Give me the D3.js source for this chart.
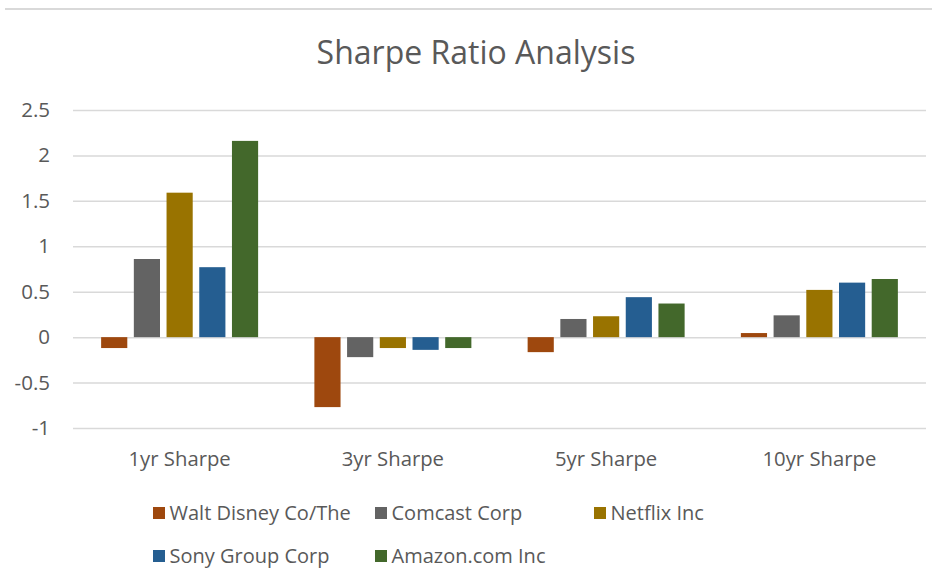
<!DOCTYPE html>
<html>
<head>
<meta charset="utf-8">
<script src="https://cdn.jsdelivr.net/npm/d3@7"></script>
<style>
  body { margin: 0; background: #fff; }
  svg { display: block; font-family: "Open Sans", sans-serif; }
</style>
</head>
<body>
<div id="chart"></div>
<script>
const categories = ['1yr Sharpe', '3yr Sharpe', '5yr Sharpe', '10yr Sharpe'];
const companies = ['Walt Disney Co/The', 'Comcast Corp', 'Netflix Inc', 'Sony Group Corp', 'Amazon.com Inc'];
const colors = ['#9e480e', '#636363', '#997300', '#255e91', '#43682b'];
// one array per company, in category order
const disney = [-0.12, -0.77, -0.165, 0.045];
const comcast = [0.86, -0.22, 0.20, 0.24];
const netflix = [1.59, -0.12, 0.23, 0.52];
const sony = [0.77, -0.14, 0.44, 0.60];
const amazon = [2.16, -0.12, 0.37, 0.64];
const yTicks = [-1, -0.5, 0, 0.5, 1, 1.5, 2, 2.5];

const series = [disney, comcast, netflix, sony, amazon];

const dims = { width: 932, height: 571 };
const plot = { left: 73, right: 926, top: 110, bottom: 428 };
const textColor = '#595959';
const gridColor = '#d9d9d9';

const svg = d3.select('#chart').append('svg')
  .attr('width', dims.width)
  .attr('height', dims.height)
  .attr('viewBox', [0, 0, dims.width, dims.height]);

// chart frame top edge
svg.append('line')
  .attr('x1', 5).attr('x2', dims.width)
  .attr('y1', 9).attr('y2', 9)
  .attr('stroke', gridColor).attr('stroke-width', 2);

svg.append('text')
  .attr('x', 476).attr('y', 64)
  .attr('text-anchor', 'middle')
  .attr('font-size', 32)
  .attr('fill', textColor)
  .text('Sharpe Ratio Analysis');

const y = d3.scaleLinear().domain([-1, 2.5]).range([plot.bottom, plot.top]);
const x0 = d3.scaleBand().domain(categories).range([plot.left, plot.right]);
const x1 = d3.scaleBand().domain(d3.range(companies.length))
  .range([0, x0.bandwidth()])
  .paddingInner(0.2)
  .paddingOuter(0.86);

// gridlines + tick labels (plain hyphen for negatives, like the original)
const yAxis = svg.append('g')
  .attr('transform', `translate(${plot.left},0)`)
  .call(d3.axisLeft(y).tickValues(yTicks).tickSize(-(plot.right - plot.left)).tickPadding(23).tickFormat(d => String(d)));
yAxis.select('.domain').remove();
yAxis.selectAll('.tick line').attr('stroke', gridColor).attr('stroke-width', 1.5);
yAxis.selectAll('.tick text')
  .attr('fill', textColor)
  .attr('font-size', 20.5)
  .attr('font-family', '"Open Sans", sans-serif');

// bars
const group = svg.append('g').selectAll('g.cat')
  .data(categories)
  .join('g')
  .attr('class', 'cat')
  .attr('transform', c => `translate(${x0(c)},0)`);

group.selectAll('rect')
  .data((c, ci) => series.map((s, i) => ({ i, value: s[ci] })))
  .join('rect')
  .attr('x', d => x1(d.i))
  .attr('width', x1.bandwidth())
  .attr('y', d => y(Math.max(0, d.value)))
  .attr('height', d => Math.abs(y(d.value) - y(0)))
  .attr('fill', d => colors[d.i]);

// category labels
const xAxis = svg.append('g')
  .attr('transform', `translate(0,${plot.bottom})`)
  .call(d3.axisBottom(x0).tickSize(0).tickPadding(24));
xAxis.select('.domain').remove();
xAxis.selectAll('.tick text')
  .attr('fill', textColor)
  .attr('font-size', 20.3)
  .attr('font-family', '"Open Sans", sans-serif');

// legend, 3 columns
const legendCols = [153, 375, 594];
const legendRows = [513, 556];
const keyItem = svg.append('g').selectAll('g.key')
  .data(companies)
  .join('g')
  .attr('class', 'key')
  .attr('transform', (_, i) => `translate(${legendCols[i % 3]},${legendRows[Math.floor(i / 3)]})`);

keyItem.append('rect')
  .attr('x', 0).attr('y', -6)
  .attr('width', 12).attr('height', 12)
  .attr('fill', (_, i) => colors[i]);

keyItem.append('text')
  .attr('x', 16.5).attr('y', 0)
  .attr('dy', '0.33em')
  .attr('font-size', 20)
  .attr('fill', textColor)
  .text(d => d);
</script>
</body>
</html>
